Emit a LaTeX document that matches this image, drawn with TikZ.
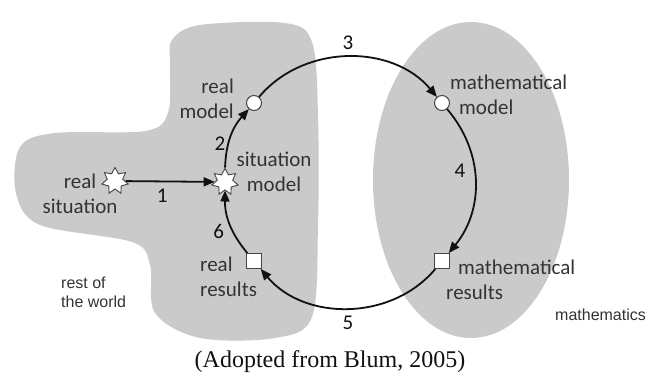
\documentclass[tikz,border=0pt]{standalone}
\usepackage{fontspec}
\setmainfont{Carlito}
\newfontfamily\arialfont{Liberation Sans}
\newfontfamily\timesfont{Liberation Serif}
\usepackage{tikz}
\usetikzlibrary{arrows.meta,positioning,shapes.geometric,calc}
\definecolor{region}{HTML}{CACACA}
\definecolor{ink}{HTML}{111111}
\definecolor{rim}{HTML}{444444}
\definecolor{word}{HTML}{333333}
\tikzset{
  burst/.style={star,star points=7,star point ratio=1.7,draw=rim,fill=white,line width=0.9pt,minimum size=27pt,inner sep=0pt},
  dot/.style={circle,draw=rim,fill=white,line width=1pt,minimum size=15pt,inner sep=0pt},
  box/.style={rectangle,draw=rim,fill=white,line width=1pt,minimum size=15pt,inner sep=0pt},
  flow/.style={-{Triangle[length=11pt,width=9pt]},line width=1.8pt,draw=ink},
  txt/.style={font=\fontsize{21}{25}\selectfont,text=word,inner sep=0pt},
  num/.style={font=\fontsize{21}{25}\selectfont,text=ink,inner sep=3pt},
  note/.style={font=\arialfont\fontsize{16}{19}\selectfont,text=word,align=left,inner sep=0pt},
}
\begin{document}
\begin{tikzpicture}[x=1pt,y=1pt]
    \useasboundingbox (0,0) rectangle (649,375);
    % the two worlds
    \fill[region] plot[smooth cycle,tension=0.55] coordinates {(172,335) (200,350) (285,352) (312,333) (318,260) (318,150) (312,58) (275,37) (200,37) (155,62) (150,110) (132,133) (40,150) (16,182) (20,228) (55,242) (145,244) (168,262) (170,310)};
    \fill[region] (471,195) ellipse[x radius=98,y radius=158];
    % stages of the cycle
    \node[burst] (rs) at (115,194) {};
    \node[burst] (sm) at (225,193) {};
    \node[dot] (rm) at (254,272) {};
    \node[dot] (mm) at (442,272) {};
    \node[box] (mr) at (442,114) {};
    \node[box] (rr) at (254,114) {};
    \draw[flow] (rs) -- node[num,below=4pt,xshift=-8pt] {1} (sm);
    \draw[flow] (sm) to[bend left=20] node[num,left=2pt,yshift=-8pt] {2} (rm);
    \draw[flow] (rm) to[bend left=50] node[num,above=4pt] {3} (mm);
    \draw[flow] (mm) to[bend left=40] node[num,left=6pt,yshift=10pt] {4} (mr);
    \draw[flow] (mr) to[bend left=50] node[num,below=4pt] {5} (rr);
    \draw[flow] (rr) to[bend left=20] node[num,left=2pt,yshift=-8pt] {6} (sm);
    % labels
    \node[txt,align=center] (rslbl) at (80,181) {real\\situation};
    \node[txt,align=center,right=1pt of sm,yshift=10pt] (smlbl) {situation\\model};
    \node[txt,align=right,left=12pt of rm,yshift=4pt] (rmlbl) {real\\model};
    \node[txt,align=left,right=0pt of mm,yshift=8pt] (mmlbl) {mathematical\\\hspace*{9pt}model};
    \node[txt,align=left,anchor=west] (rrlbl) at ($(rr)+(-54,-16)$) {real\\results};
    \node[txt,align=left,anchor=west] (mrlbl) at ($(mr)+(4,-19)$) {\hspace*{12pt}mathematical\\results};
    \node[note,anchor=west] (world) at (61,83) {rest of\\the world};
    \node[note,anchor=west] (maths) at (555,60) {mathematics};
    \node[font=\timesfont\fontsize{24}{28}\selectfont,text=ink] (src) at (330,13) {(Adopted from Blum, 2005)};
\end{tikzpicture}
\end{document}
